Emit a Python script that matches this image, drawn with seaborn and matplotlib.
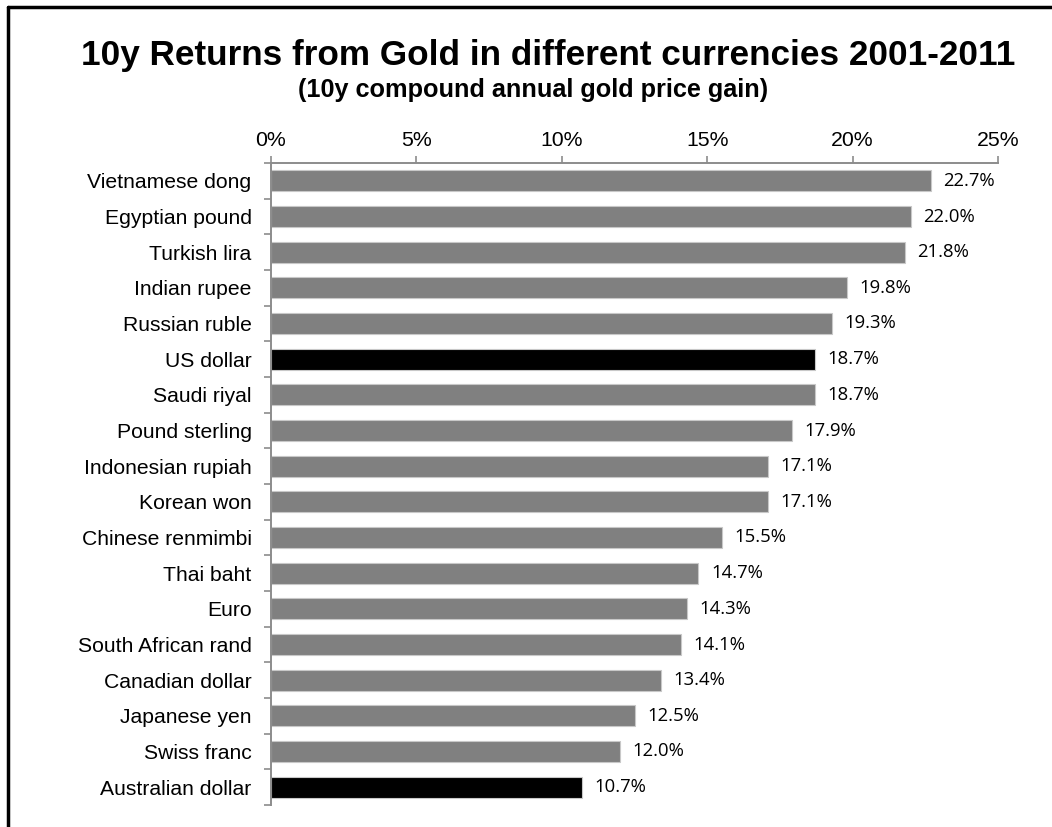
import matplotlib
matplotlib.use("Agg")
import matplotlib.pyplot as plt
import seaborn as sns
import pandas as pd
import numpy as np
from matplotlib.lines import Line2D

currencies = ["Vietnamese dong", "Egyptian pound", "Turkish lira", "Indian rupee",
              "Russian ruble", "US dollar", "Saudi riyal", "Pound sterling",
              "Indonesian rupiah", "Korean won", "Chinese renmimbi", "Thai baht",
              "Euro", "South African rand", "Canadian dollar", "Japanese yen",
              "Swiss franc", "Australian dollar"]
returns = [22.7, 22.0, 21.8, 19.8, 19.3, 18.7, 18.7, 17.9, 17.1, 17.1,
           15.5, 14.7, 14.3, 14.1, 13.4, 12.5, 12.0, 10.7]
highlight = ["US dollar", "Australian dollar"]
x_ticks = [0, 5, 10, 15, 20, 25]
x_tick_labels = ["0%", "5%", "10%", "15%", "20%", "25%"]

sns.set_style("white")
plt.rcParams["font.family"] = ["Liberation Sans", "DejaVu Sans"]
plt.rcParams["text.color"] = "black"

df = pd.DataFrame({"currency": currencies, "ret": returns})
palette = {c: ("#000000" if c in highlight else "#808080") for c in currencies}

fig = plt.figure(figsize=(10.52, 8.27), dpi=100)
ax = fig.add_axes([271/1052, 1 - 805/827, (998-271)/1052, (805-163)/827])

sns.barplot(data=df, y="currency", x="ret", hue="currency", palette=palette,
            order=currencies, hue_order=currencies, legend=False, ax=ax,
            width=0.58, edgecolor="#c8c8c8", linewidth=0.8, saturation=1)

ax.set_xlim(0, 25)
ax.set_ylim(len(currencies) - 0.5, -0.5)
ax.set_xlabel("")
ax.set_ylabel("")

ax.xaxis.tick_top()
ax.set_xticks(x_ticks)
ax.set_xticklabels(x_tick_labels)
ax.tick_params(axis="x", which="major", direction="out", length=5, width=1.2,
               color="#8c8c8c", labelsize=15.3, pad=4, labelcolor="black")

ax.set_yticks(range(len(currencies)))
ax.set_yticklabels(currencies)
ax.tick_params(axis="y", which="major", length=0, labelsize=15.2, pad=14,
               labelcolor="black")
ax.set_yticks(np.arange(-0.5, len(currencies), 1.0), minor=True)
ax.tick_params(axis="y", which="minor", direction="out", length=5, width=1.2,
               color="#8c8c8c", left=True)

for s in ["right", "bottom"]:
    ax.spines[s].set_visible(False)
for s in ["top", "left"]:
    ax.spines[s].set_color("#8c8c8c")
    ax.spines[s].set_linewidth(1.4)

for i, v in enumerate(returns):
    ax.annotate(f"{v:.1f}%", xy=(v, i), xytext=(9, 0), textcoords="offset points",
                va="center", ha="left", fontsize=13.3, color="black",
                family=["Open Sans", "DejaVu Sans"])

fig.text(548/1052, 1 - 55/827, "10y Returns from Gold in different currencies 2001-2011",
         ha="center", va="center", fontsize=25.3, fontweight="bold", color="black")
fig.text(533/1052, 1 - 90/827, "(10y compound annual gold price gain)",
         ha="center", va="center", fontsize=18.2, fontweight="bold", color="black")

# outer frame (top and left)
fig.add_artist(Line2D([8/1052, 1], [1 - 7/827, 1 - 7/827], transform=fig.transFigure,
                      color="black", linewidth=2.5))
fig.add_artist(Line2D([8/1052, 8/1052], [0, 1 - 7/827], transform=fig.transFigure,
                      color="black", linewidth=2.5))

fig.savefig("out.png", dpi=100, facecolor="white")
